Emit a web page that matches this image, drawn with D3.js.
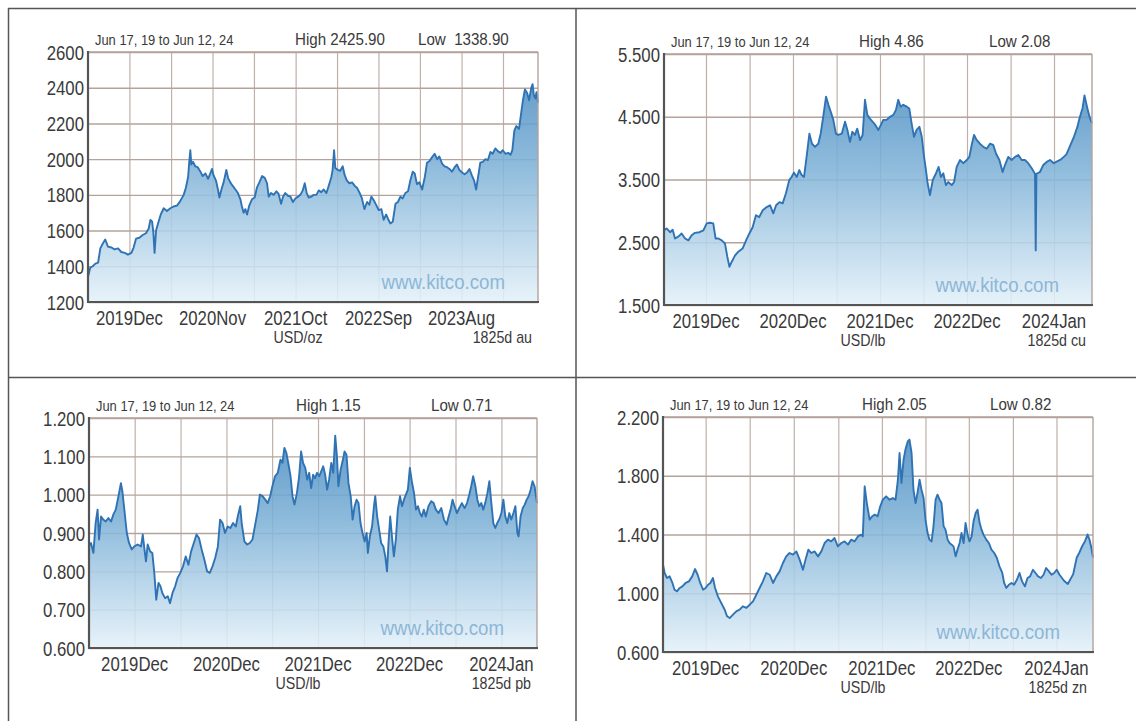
<!DOCTYPE html>
<html><head><meta charset="utf-8">
<script src="https://cdn.jsdelivr.net/npm/d3@7"></script>
<style>body{margin:0;background:#fff}svg{display:block}text{font-family:"Liberation Sans",Arial,sans-serif;white-space:pre}</style>
</head><body><svg id="c" width="1136" height="721"></svg>
<script>
// ---------- DATA ----------
const startDate = new Date(2019, 5, 17);
const endDate = new Date(2024, 5, 15);
const dateRangeText = "Jun 17, 19 to Jun 12, 24";

// [days since Jun 17 2019, price]
const goldSeries = [[0,1340],[9,1392],[19,1400],[30,1415],[41,1420],[50,1500],[59,1525],[70,1550],[81,1510],[95,1505],[108,1495],[122,1500],[135,1480],[149,1475],[162,1465],[176,1475],[185,1505],[195,1555],[208,1560],[222,1575],[235,1585],[246,1610],[253,1660],[260,1650],[265,1590],[270,1475],[276,1600],[284,1640],[295,1690],[307,1725],[320,1710],[334,1725],[347,1735],[361,1740],[374,1765],[388,1800],[397,1840],[406,1900],[411,1990],[415,2050],[419,1970],[426,1985],[435,1960],[445,1955],[456,1930],[465,1905],[476,1920],[487,1890],[496,1920],[503,1945],[509,1910],[519,1880],[527,1830],[533,1785],[541,1830],[550,1870],[561,1940],[568,1895],[577,1870],[587,1850],[598,1830],[608,1810],[618,1775],[625,1730],[631,1700],[638,1720],[645,1690],[654,1740],[665,1775],[676,1785],[685,1840],[695,1870],[706,1905],[717,1895],[726,1865],[733,1790],[742,1810],[753,1800],[764,1820],[773,1805],[783,1750],[791,1790],[800,1810],[811,1795],[821,1790],[831,1760],[841,1780],[852,1790],[861,1800],[871,1825],[879,1865],[887,1810],[895,1785],[906,1790],[915,1800],[926,1800],[936,1825],[946,1815],[956,1830],[967,1810],[976,1850],[987,1900],[992,1940],[998,2050],[1003,1950],[1013,1940],[1023,1935],[1033,1960],[1041,1910],[1050,1880],[1060,1865],[1071,1870],[1082,1850],[1091,1840],[1102,1810],[1111,1780],[1121,1720],[1132,1760],[1141,1745],[1149,1790],[1159,1770],[1168,1745],[1179,1715],[1190,1720],[1199,1660],[1209,1690],[1217,1665],[1226,1640],[1236,1650],[1247,1750],[1257,1760],[1267,1790],[1276,1780],[1287,1810],[1298,1820],[1307,1880],[1317,1930],[1325,1920],[1334,1860],[1344,1870],[1355,1830],[1366,1900],[1375,1980],[1385,1990],[1395,2010],[1406,2030],[1416,2000],[1425,2015],[1436,1975],[1446,1960],[1456,1955],[1466,1945],[1476,1930],[1487,1955],[1496,1970],[1506,1940],[1517,1925],[1527,1915],[1537,1925],[1547,1945],[1558,1905],[1566,1880],[1574,1830],[1582,1900],[1591,1980],[1601,1985],[1612,2000],[1622,1995],[1632,2040],[1641,2030],[1652,2060],[1662,2045],[1673,2035],[1682,2050],[1693,2030],[1704,2035],[1714,2025],[1721,2050],[1729,2160],[1737,2185],[1748,2170],[1756,2250],[1764,2330],[1772,2390],[1781,2370],[1789,2330],[1797,2395],[1803,2420],[1808,2360],[1814,2340],[1819,2375],[1825,2315]];

const copperSeries = [[0,2.69],[11,2.72],[26,2.66],[37,2.70],[47,2.56],[61,2.59],[75,2.64],[90,2.56],[104,2.53],[118,2.61],[132,2.65],[151,2.66],[168,2.69],[182,2.80],[196,2.81],[210,2.80],[220,2.56],[232,2.56],[246,2.53],[260,2.48],[270,2.27],[279,2.11],[289,2.19],[303,2.29],[317,2.35],[335,2.40],[350,2.53],[364,2.64],[378,2.74],[392,2.93],[406,2.90],[421,3.01],[438,3.06],[452,3.09],[466,2.96],[478,3.09],[492,3.14],[506,3.12],[520,3.28],[534,3.49],[544,3.54],[554,3.61],[566,3.54],[577,3.65],[587,3.57],[597,3.54],[608,3.86],[620,4.23],[631,4.07],[644,4.02],[658,4.07],[668,4.23],[679,4.50],[691,4.82],[701,4.69],[711,4.58],[722,4.45],[733,4.23],[743,4.21],[758,4.23],[772,4.42],[782,4.29],[793,4.10],[803,4.26],[814,4.21],[824,4.31],[836,4.13],[847,4.21],[857,4.77],[867,4.53],[878,4.47],[890,4.42],[901,4.37],[914,4.29],[925,4.37],[935,4.45],[949,4.45],[964,4.50],[978,4.53],[989,4.61],[999,4.77],[1009,4.66],[1020,4.69],[1035,4.66],[1046,4.63],[1056,4.39],[1066,4.18],[1077,4.29],[1089,4.34],[1099,4.18],[1109,3.86],[1117,3.65],[1124,3.44],[1134,3.25],[1146,3.49],[1160,3.60],[1171,3.70],[1181,3.54],[1191,3.60],[1202,3.41],[1212,3.46],[1227,3.41],[1237,3.46],[1248,3.70],[1262,3.81],[1276,3.76],[1291,3.81],[1302,3.86],[1312,4.05],[1322,4.21],[1333,4.13],[1347,4.07],[1362,4.02],[1376,3.99],[1390,4.07],[1404,4.05],[1416,3.91],[1430,3.81],[1444,3.62],[1454,3.73],[1468,3.86],[1482,3.81],[1497,3.86],[1511,3.89],[1525,3.81],[1539,3.81],[1553,3.76],[1568,3.68],[1582,3.59],[1585,2.37],[1588,3.59],[1603,3.62],[1617,3.73],[1632,3.78],[1646,3.81],[1662,3.76],[1693,3.82],[1716,3.90],[1731,4.03],[1747,4.17],[1762,4.33],[1772,4.48],[1785,4.64],[1793,4.84],[1800,4.72],[1808,4.59],[1816,4.48],[1825,4.40]];

const leadSeries = [[0,0.865],[8,0.874],[18,0.848],[27,0.926],[35,0.961],[41,0.883],[49,0.943],[58,0.935],[68,0.930],[79,0.939],[90,0.930],[99,0.948],[109,0.961],[120,0.996],[130,1.030],[136,1.009],[144,0.961],[154,0.900],[163,0.874],[174,0.857],[185,0.865],[198,0.870],[212,0.865],[219,0.896],[226,0.857],[232,0.826],[239,0.870],[249,0.852],[258,0.848],[266,0.796],[274,0.726],[283,0.770],[291,0.761],[299,0.743],[310,0.730],[321,0.735],[330,0.717],[340,0.743],[351,0.761],[361,0.783],[372,0.796],[383,0.813],[394,0.839],[405,0.817],[416,0.852],[427,0.874],[438,0.896],[448,0.887],[459,0.857],[470,0.830],[481,0.800],[492,0.796],[503,0.813],[514,0.835],[525,0.865],[534,0.935],[544,0.926],[554,0.900],[565,0.917],[576,0.913],[587,0.926],[598,0.917],[606,0.943],[616,0.970],[622,0.926],[633,0.878],[644,0.870],[655,0.874],[666,0.883],[677,0.922],[688,0.961],[696,1.000],[707,0.996],[718,0.987],[728,0.978],[738,0.996],[747,1.022],[758,1.048],[769,1.057],[780,1.091],[788,1.083],[796,1.122],[804,1.109],[813,1.078],[821,1.048],[829,0.996],[837,0.974],[847,1.004],[856,1.048],[864,1.113],[872,1.083],[881,1.070],[889,1.039],[897,1.057],[905,1.017],[913,1.052],[921,1.043],[929,1.057],[938,1.048],[946,1.061],[954,1.074],[962,1.052],[970,1.013],[978,1.039],[987,1.083],[995,1.057],[1003,1.154],[1010,1.100],[1016,1.022],[1025,1.065],[1033,1.087],[1041,1.113],[1049,1.104],[1057,1.030],[1066,0.996],[1074,0.935],[1082,0.970],[1090,0.987],[1098,0.978],[1106,0.926],[1114,0.900],[1123,0.878],[1131,0.900],[1136,0.848],[1144,0.891],[1153,0.917],[1161,0.970],[1166,0.996],[1174,0.943],[1182,0.909],[1190,0.874],[1199,0.865],[1207,0.839],[1214,0.800],[1220,0.874],[1227,0.943],[1234,0.891],[1242,0.839],[1250,0.883],[1258,0.961],[1267,0.996],[1275,0.970],[1283,0.987],[1291,1.000],[1299,1.013],[1307,1.070],[1315,1.035],[1324,1.004],[1332,0.961],[1340,0.970],[1348,0.952],[1356,0.943],[1364,0.961],[1372,0.943],[1383,0.970],[1394,0.983],[1404,0.978],[1413,0.961],[1424,0.952],[1435,0.965],[1446,0.935],[1457,0.922],[1465,0.943],[1473,0.961],[1481,0.987],[1489,0.970],[1499,0.952],[1508,0.965],[1519,0.978],[1530,0.965],[1540,0.978],[1549,1.000],[1557,1.022],[1565,1.048],[1574,1.022],[1582,0.987],[1590,0.970],[1598,0.978],[1606,0.961],[1614,0.978],[1623,1.004],[1631,1.035],[1639,0.978],[1647,0.926],[1655,0.913],[1663,0.926],[1671,0.935],[1680,0.952],[1688,0.987],[1696,0.943],[1704,0.926],[1712,0.952],[1720,0.935],[1729,0.952],[1737,0.970],[1745,0.900],[1750,0.891],[1758,0.943],[1767,0.965],[1775,0.974],[1783,0.987],[1791,0.996],[1799,1.013],[1807,1.035],[1815,1.022],[1825,0.978]];

const zincSeries = [[0,1.195],[7,1.138],[17,1.104],[28,1.115],[40,1.070],[49,1.024],[59,1.013],[71,1.036],[82,1.047],[96,1.070],[110,1.081],[124,1.115],[136,1.165],[147,1.126],[158,1.070],[170,1.024],[181,1.036],[191,1.058],[201,1.070],[212,1.104],[221,1.036],[233,0.979],[247,0.934],[262,0.888],[272,0.843],[283,0.831],[297,0.854],[311,0.877],[325,0.888],[339,0.911],[354,0.900],[368,0.922],[382,0.945],[396,0.990],[410,1.036],[424,1.081],[438,1.138],[453,1.126],[467,1.070],[481,1.115],[495,1.149],[509,1.206],[523,1.251],[537,1.274],[552,1.263],[566,1.285],[580,1.229],[594,1.160],[605,1.229],[617,1.297],[629,1.274],[643,1.285],[658,1.251],[672,1.285],[686,1.342],[700,1.365],[714,1.353],[728,1.376],[742,1.319],[757,1.342],[771,1.353],[785,1.331],[799,1.365],[813,1.353],[827,1.387],[841,1.399],[848,1.387],[856,1.728],[865,1.614],[877,1.501],[888,1.524],[899,1.535],[911,1.524],[922,1.592],[933,1.637],[947,1.660],[962,1.637],[976,1.648],[987,1.637],[997,1.773],[1004,1.955],[1012,1.751],[1021,1.909],[1029,1.978],[1039,2.034],[1046,2.046],[1055,1.955],[1063,1.705],[1072,1.614],[1080,1.682],[1089,1.773],[1097,1.705],[1106,1.648],[1114,1.501],[1123,1.410],[1131,1.365],[1140,1.353],[1148,1.456],[1157,1.637],[1165,1.671],[1174,1.637],[1182,1.614],[1191,1.456],[1199,1.433],[1208,1.365],[1216,1.342],[1225,1.331],[1233,1.319],[1242,1.251],[1250,1.297],[1259,1.342],[1267,1.410],[1276,1.342],[1284,1.478],[1293,1.399],[1301,1.353],[1310,1.387],[1318,1.490],[1327,1.546],[1335,1.569],[1344,1.478],[1352,1.433],[1360,1.399],[1372,1.365],[1383,1.342],[1394,1.297],[1406,1.274],[1417,1.240],[1428,1.183],[1440,1.138],[1448,1.070],[1457,1.036],[1468,1.058],[1479,1.070],[1490,1.058],[1502,1.092],[1513,1.138],[1524,1.081],[1536,1.047],[1547,1.104],[1558,1.115],[1570,1.160],[1581,1.138],[1592,1.115],[1604,1.104],[1615,1.126],[1626,1.172],[1638,1.149],[1649,1.126],[1660,1.138],[1671,1.160],[1683,1.126],[1702,1.085],[1718,1.063],[1741,1.130],[1756,1.243],[1767,1.276],[1779,1.320],[1791,1.355],[1802,1.400],[1810,1.366],[1818,1.310],[1825,1.243]];

// y ticks
const goldYTicks = [1200,1400,1600,1800,2000,2200,2400,2600];
const copperYTicks = [1.5,2.5,3.5,4.5,5.5];
const leadYTicks = [0.6,0.7,0.8,0.9,1.0,1.1,1.2];
const zincYTicks = [0.6,1.0,1.4,1.8,2.2];

// vertical grid dates and x labels (labels sit on every other grid line)
const goldGrid = ["2019-12-02","2020-05-19","2020-11-03","2021-04-20","2021-10-06","2022-03-23","2022-09-07","2023-02-22","2023-08-10","2024-01-25"];
const goldXLabels = ["2019Dec","2020Nov","2021Oct","2022Sep","2023Aug"];
const copperGrid = ["2019-12-13","2020-06-16","2020-12-18","2021-06-22","2021-12-24","2022-06-28","2022-12-30","2023-07-04","2024-01-05"];
const leadGrid = ["2019-12-20","2020-06-24","2020-12-28","2021-07-02","2022-01-05","2022-07-11","2023-01-13","2023-07-19","2024-01-22"];
const zincGrid = ["2019-12-15","2020-06-19","2020-12-23","2021-06-30","2022-01-01","2022-07-05","2023-01-05","2023-07-11","2024-01-12"];
const baseXLabels = ["2019Dec","2020Dec","2021Dec","2022Dec","2024Jan"];

const highLow = {
  au: ["High 2425.90", "Low  1338.90"],
  cu: ["High 4.86", "Low 2.08"],
  pb: ["High 1.15", "Low 0.71"],
  zn: ["High 2.05", "Low 0.82"]
};
const units = {au: "USD/oz", cu: "USD/lb", pb: "USD/lb", zn: "USD/lb"};

// ---------- LAYOUT ----------
const panels = [
  {key:"au", series: goldSeries, yTicks: goldYTicks, fmt: d3.format("d"), grid: goldGrid, xLabels: goldXLabels,
   left:88, right:538, top:52, bottom:302, highDx:207, lowDx:330},
  {key:"cu", series: copperSeries, yTicks: copperYTicks, fmt: d3.format(".3f"), grid: copperGrid, xLabels: baseXLabels,
   left:664, right:1092, top:54, bottom:305, highDx:195, lowDx:325},
  {key:"pb", series: leadSeries, yTicks: leadYTicks, fmt: d3.format(".3f"), grid: leadGrid, xLabels: baseXLabels,
   left:89, right:537, top:418, bottom:648, highDx:207, lowDx:342},
  {key:"zn", series: zincSeries, yTicks: zincYTicks, fmt: d3.format(".3f"), grid: zincGrid, xLabels: baseXLabels,
   left:663, right:1093, top:417, bottom:652, highDx:199, lowDx:327}
];

const svg = d3.select("#c");
const defs = svg.append("defs");
const parseDate = d3.timeParse("%Y-%m-%d");
const TXT = "#3a3a3a";
const GRID = "#bfb1aa";

function ctext(g, x, y, str, size, anchor, sx, fill) {
  return g.append("text")
    .attr("transform", `translate(${x},${y}) scale(${sx},1)`)
    .attr("text-anchor", anchor)
    .attr("font-size", size)
    .attr("fill", fill || TXT)
    .text(str);
}

// table frame
const frame = svg.append("g").attr("stroke", "#555").attr("stroke-width", 1.5);
frame.append("line").attr("x1", 8).attr("y1", 8.5).attr("x2", 1136).attr("y2", 8.5);
frame.append("line").attr("x1", 8.5).attr("y1", 8).attr("x2", 8.5).attr("y2", 721);
frame.append("line").attr("x1", 576).attr("y1", 8).attr("x2", 576).attr("y2", 721);
frame.append("line").attr("x1", 8).attr("y1", 377.5).attr("x2", 1136).attr("y2", 377.5);

panels.forEach(p => {
  const g = svg.append("g");
  const x = d3.scaleTime().domain([startDate, endDate]).range([p.left, p.right]);
  const dom = d3.extent(p.yTicks);
  const y = d3.scaleLinear().domain(dom).range([p.bottom, p.top]);
  const data = p.series.map(d => ({date: d3.timeDay.offset(startDate, d[0]), v: d[1]}));
  const gridDates = p.grid.map(parseDate);

  const gradId = "grad-" + p.key;
  const grad = defs.append("linearGradient").attr("id", gradId)
    .attr("gradientUnits", "userSpaceOnUse")
    .attr("x1", 0).attr("x2", 0).attr("y1", p.top).attr("y2", p.bottom);
  grad.append("stop").attr("offset", 0).attr("stop-color", "#3f84bd");
  grad.append("stop").attr("offset", 0.45).attr("stop-color", "#7fb2d7");
  grad.append("stop").attr("offset", 1).attr("stop-color", "#e4f1f9");

  g.append("rect").attr("x", p.left).attr("y", p.top)
    .attr("width", p.right - p.left).attr("height", p.bottom - p.top).attr("fill", "#fff");

  // grid via axes
  const gx = g.append("g").attr("transform", `translate(0,${p.bottom})`)
    .call(d3.axisBottom(x).tickValues(gridDates).tickSize(-(p.bottom - p.top)).tickFormat(""));
  gx.select(".domain").remove();
  gx.selectAll("line").attr("stroke", GRID).attr("stroke-width", 1.2);
  const gy = g.append("g").attr("transform", `translate(${p.left},0)`)
    .call(d3.axisLeft(y).tickValues(p.yTicks).tickSize(-(p.right - p.left)).tickFormat(""));
  gy.select(".domain").remove();
  gy.selectAll("line").attr("stroke", "#b3a39c").attr("stroke-width", 1.4);

  // area + line
  const area = d3.area().x(d => x(d.date)).y0(p.bottom).y1(d => y(d.v));
  const line = d3.line().x(d => x(d.date)).y(d => y(d.v));
  g.append("path").datum(data).attr("d", area).attr("fill", `url(#${gradId})`).attr("fill-opacity", 0.88);
  g.append("path").datum(data).attr("d", line).attr("fill", "none")
    .attr("stroke", "#2f73b4").attr("stroke-width", 1.9).attr("stroke-linejoin", "round");

  // plot frame
  g.append("line").attr("x1", p.left).attr("x2", p.right).attr("y1", p.top).attr("y2", p.top)
    .attr("stroke", "#b3a39c").attr("stroke-width", 1.4);
  g.append("line").attr("x1", p.right).attr("x2", p.right).attr("y1", p.top).attr("y2", p.bottom)
    .attr("stroke", "#b3a39c").attr("stroke-width", 1.4);
  g.append("line").attr("x1", p.left).attr("x2", p.right + 1).attr("y1", p.bottom).attr("y2", p.bottom)
    .attr("stroke", "#555").attr("stroke-width", 2.2);
  g.append("line").attr("x1", p.left).attr("x2", p.left).attr("y1", p.top - 1).attr("y2", p.bottom + 1)
    .attr("stroke", "#555").attr("stroke-width", 2.2);

  // watermark
  ctext(g, p.right - 33, p.bottom - 13, "www.kitco.com", 21, "end", 0.89, "#8db6d6");

  // y labels
  p.yTicks.forEach(t => ctext(g, p.left - 4, y(t) + 7.5, p.fmt(t), 19.5, "end", 0.86));
  // x labels
  p.xLabels.forEach((lab, i) => ctext(g, x(gridDates[i * 2]), p.bottom + 23, lab, 19.5, "middle", 0.86));
  // units + days
  ctext(g, (p.left + p.right) / 2 - 15, p.bottom + 41, units[p.key], 16, "middle", 0.89);
  ctext(g, p.right - 6, p.bottom + 41, "1825d " + p.key, 16, "end", 0.89);
  // header
  ctext(g, p.left + 7, p.top - 7, dateRangeText, 14.5, "start", 0.89);
  ctext(g, p.left + p.highDx, p.top - 7, highLow[p.key][0], 17, "start", 0.89);
  ctext(g, p.left + p.lowDx, p.top - 7, highLow[p.key][1], 17, "start", 0.89);
});
</script>
</body></html>
